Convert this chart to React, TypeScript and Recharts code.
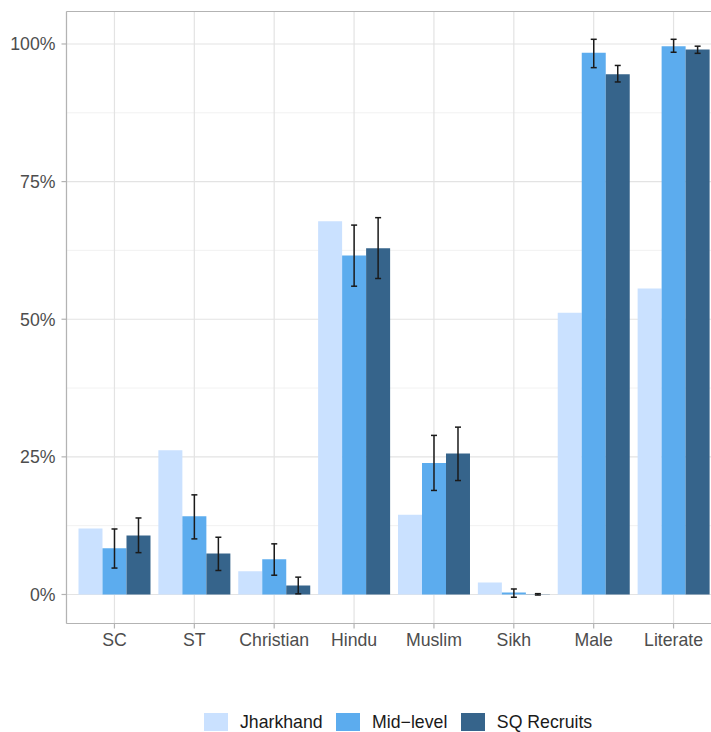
import React from 'react';
import {
  BarChart, Bar, XAxis, YAxis, CartesianGrid, ErrorBar, Legend, ReferenceLine,
} from 'recharts';

const categories = ['SC', 'ST', 'Christian', 'Hindu', 'Muslim', 'Sikh', 'Male', 'Literate'];
const jharkhand = [12.0, 26.2, 4.2, 67.8, 14.5, 2.2, 51.2, 55.6];
const midLevel = [8.4, 14.2, 6.4, 61.6, 23.9, 0.36, 98.4, 99.6];
const midLow = [4.8, 10.1, 3.5, 56.0, 18.9, -0.5, 95.7, 98.5];
const midHigh = [11.9, 18.1, 9.2, 67.1, 28.9, 1.0, 100.85, 100.85];
const sqRecruits = [10.7, 7.45, 1.64, 62.9, 25.6, 0.05, 94.5, 99.0];
const sqLow = [7.6, 4.36, 0.12, 57.4, 20.7, -0.1, 93.1, 98.3];
const sqHigh = [13.9, 10.4, 3.15, 68.45, 30.4, 0.15, 96.1, 99.6];

const seriesNames = ['Jharkhand', 'Mid\u2212level', 'SQ Recruits'];
const seriesColors = ['#CAE1FF', '#5CACEE', '#36648B'];

const yTicks = [0, 25, 50, 75, 100];
const yMinorTicks = [12.5, 37.5, 62.5, 87.5];
const yDomain: [number, number] = [-5.27, 105.9];

const data = categories.map((c, i) => ({
  category: c,
  jharkhand: jharkhand[i],
  mid: midLevel[i],
  midErr: [midLevel[i] - midLow[i], midHigh[i] - midLevel[i]],
  sq: sqRecruits[i],
  sqErr: [sqRecruits[i] - sqLow[i], sqHigh[i] - sqRecruits[i]],
}));

const FONT = '"Liberation Sans", Arial, Helvetica, sans-serif';
const BORDER = '#B3B3B3';

const renderLegend = (props: any) => {
  const { payload } = props;
  return (
    <div
      style={{
        display: 'flex',
        alignItems: 'center',
        height: 20,
        paddingLeft: 204,
        fontFamily: FONT,
        fontSize: 17.7,
        lineHeight: '20px',
        color: '#1A1A1A',
      }}
    >
      {(payload || []).map((entry: any) => (
        <div key={entry.value} style={{ display: 'flex', alignItems: 'center', marginRight: 13.5 }}>
          <span
            style={{ display: 'inline-block', width: 24, height: 18, background: entry.color, marginRight: 12 }}
          />
          <span>{entry.value}</span>
        </div>
      ))}
    </div>
  );
};

export default function App() {
  return (
    <div style={{ position: 'absolute', left: 0, top: 0, width: 711, height: 732, overflow: 'hidden', background: '#fff' }}>
      <BarChart
        width={721.5}
        height={732}
        data={data}
        margin={{ top: 11.5, right: 0, bottom: 0, left: 0 }}
        barCategoryGap="5%"
        barGap={0}
      >
        <CartesianGrid yAxisId="minor" vertical={false} stroke="#EDEDED" strokeWidth={0.8} />
        <CartesianGrid stroke="#E3E3E3" strokeWidth={1.2} />
        <XAxis
          dataKey="category"
          padding={{ left: 8, right: 8 }}
          height={88.5}
          tickSize={5}
          tickMargin={4.5}
          axisLine={{ stroke: BORDER, strokeWidth: 1.2 }}
          tickLine={{ stroke: BORDER, strokeWidth: 1.2 }}
          tick={{ fill: '#4D4D4D', fontSize: 17.7, fontFamily: FONT }}
          interval={0}
        />
        <YAxis
          type="number"
          domain={yDomain}
          ticks={yTicks}
          allowDataOverflow
          width={66.5}
          tickSize={5}
          tickMargin={6}
          axisLine={{ stroke: BORDER, strokeWidth: 1.2 }}
          tickLine={{ stroke: BORDER, strokeWidth: 1.2 }}
          tick={{ fill: '#4D4D4D', fontSize: 17.7, fontFamily: FONT }}
          tickFormatter={(v: number) => `${v}%`}
        />
        <YAxis yAxisId="minor" type="number" domain={yDomain} ticks={yMinorTicks} allowDataOverflow hide />
        <ReferenceLine y={yDomain[1]} stroke={BORDER} strokeWidth={1.2} />
        <Legend verticalAlign="bottom" content={renderLegend} wrapperStyle={{ left: 0, width: 711 }} />
        <Bar dataKey="jharkhand" name={seriesNames[0]} fill={seriesColors[0]} isAnimationActive={false} />
        <Bar dataKey="mid" name={seriesNames[1]} fill={seriesColors[1]} isAnimationActive={false}>
          <ErrorBar dataKey="midErr" width={3} strokeWidth={1.5} stroke="#1A1A1A" direction="y" isAnimationActive={false} />
        </Bar>
        <Bar dataKey="sq" name={seriesNames[2]} fill={seriesColors[2]} isAnimationActive={false}>
          <ErrorBar dataKey="sqErr" width={3} strokeWidth={1.5} stroke="#1A1A1A" direction="y" isAnimationActive={false} />
        </Bar>
      </BarChart>
    </div>
  );
}
